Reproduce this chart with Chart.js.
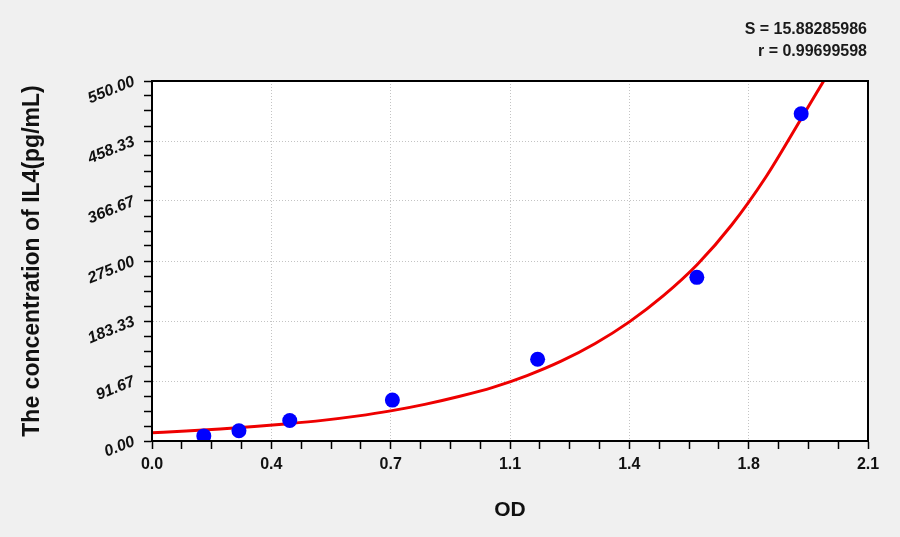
<!DOCTYPE html>
<html>
<head>
<meta charset="utf-8">
<script src="https://cdn.jsdelivr.net/npm/chart.js@4.4.0/dist/chart.umd.min.js"></script>
<style>
  html, body { margin: 0; padding: 0; background: #f0f0f0; }
  #wrap { width: 900px; height: 537px; }
</style>
</head>
<body>
<div id="wrap"><canvas id="c" width="900" height="537"></canvas></div>
<script>
// Standard points (OD vs concentration)
const odValues = [0.152, 0.255, 0.404, 0.705, 1.131, 1.598, 1.904];
const concValues = [7.81, 15.63, 31.25, 62.5, 125, 250, 500];

// Fitted curve
const curveOD = [0, 0.1, 0.2, 0.3, 0.4, 0.5, 0.6, 0.7, 0.8, 0.9, 1.0, 1.1, 1.2, 1.3, 1.4, 1.5, 1.6, 1.7, 1.8, 1.9, 1.97];
const curveConc = [12.7, 15.3, 18.5, 22.3, 26.5, 31.5, 38, 46, 56, 68, 82, 100, 122, 149, 182, 222, 270, 330, 403, 489, 550];

// Axis tick labels (major ticks)
const xTickLabels = ['0.0', '0.4', '0.7', '1.1', '1.4', '1.8', '2.1'];
const yTickLabels = ['0.00', '91.67', '183.33', '275.00', '366.67', '458.33', '550.00'];
const xMax = 2.1;
const yMax = 550;
const minorPerMajor = 4;

const statLines = ['S = 15.88285986', 'r = 0.99699598'];
const xTitle = 'OD';
const yTitle = 'The concentration of IL4(pg/mL)';

const FONT = "'Liberation Sans', Arial, sans-serif";

const bgPlugin = {
  id: 'bg',
  beforeDraw(chart) {
    const { ctx, chartArea: a } = chart;
    ctx.save();
    ctx.fillStyle = '#f0f0f0';
    ctx.fillRect(0, 0, chart.width, chart.height);
    ctx.fillStyle = '#ffffff';
    ctx.fillRect(a.left, a.top, a.right - a.left, a.bottom - a.top);
    ctx.restore();
  },
  afterDraw(chart) {
    const { ctx, chartArea: a } = chart;
    ctx.save();
    ctx.strokeStyle = '#000';
    ctx.lineWidth = 2;
    ctx.strokeRect(a.left, a.top, a.right - a.left, a.bottom - a.top);
    ctx.fillStyle = '#1a1a1a';
    ctx.font = 'bold 16px ' + FONT;
    ctx.textAlign = 'right';
    ctx.textBaseline = 'middle';
    ctx.fillText(statLines[0], 867, 30);
    ctx.fillText(statLines[1], 867, 52);
    ctx.restore();
  }
};

function makeTicks(max, labels) {
  const n = (labels.length - 1) * minorPerMajor;
  const t = [];
  for (let i = 0; i <= n; i++) t.push({ value: max * i / n });
  return t;
}

const gridColor = (c) => (c.index % minorPerMajor === 0 ? '#c4c4c4' : 'rgba(0,0,0,0)');

new Chart(document.getElementById('c'), {
  type: 'scatter',
  data: {
    datasets: [
      {
        type: 'line',
        label: 'fit',
        data: curveOD.map((x, i) => ({ x, y: curveConc[i] })),
        borderColor: '#ee0000',
        borderWidth: 3,
        pointRadius: 0,
        fill: false,
        cubicInterpolationMode: 'monotone',
        order: 2
      },
      {
        label: 'standards',
        data: odValues.map((x, i) => ({ x, y: concValues[i] })),
        backgroundColor: '#0000ff',
        borderWidth: 0,
        pointRadius: 7.5,
        pointHoverRadius: 7.5,
        order: 1
      }
    ]
  },
  options: {
    responsive: false,
    animation: false,
    devicePixelRatio: 1,
    layout: { padding: { top: 81, right: 32, left: 0, bottom: 0 } },
    plugins: { legend: { display: false }, tooltip: { enabled: false } },
    scales: {
      x: {
        type: 'linear',
        min: 0,
        max: xMax,
        afterBuildTicks(s) { s.ticks = makeTicks(xMax, xTickLabels); },
        afterFit(s) { s.height = 96; },
        border: { display: true, color: '#000', width: 2, dash: [1, 2] },
        grid: { color: gridColor, lineWidth: 1, tickColor: '#000', tickWidth: 1.5, tickLength: 8 },
        ticks: {
          autoSkip: false,
          maxRotation: 0,
          minRotation: 0,
          padding: 6,
          color: '#111',
          font: { family: FONT, size: 16, weight: 'bold' },
          callback: (v, i) => (i % minorPerMajor === 0 ? xTickLabels[i / minorPerMajor] : '')
        },
        title: {
          display: true,
          text: xTitle,
          color: '#111',
          font: { family: FONT, size: 21, weight: 'bold' },
          padding: { top: 0, bottom: 14 }
        }
      },
      y: {
        type: 'linear',
        min: 0,
        max: yMax,
        afterBuildTicks(s) { s.ticks = makeTicks(yMax, yTickLabels); },
        afterFit(s) { s.width = 152; },
        border: { display: true, color: '#000', width: 2, dash: [1, 2] },
        grid: { color: gridColor, lineWidth: 1, tickColor: '#000', tickWidth: 1.5, tickLength: 8 },
        ticks: {
          autoSkip: false,
          minRotation: 22,
          maxRotation: 22,
          padding: 10,
          color: '#111',
          font: { family: FONT, size: 16, weight: 'bold', style: 'italic' },
          callback: (v, i) => (i % minorPerMajor === 0 ? yTickLabels[i / minorPerMajor] : '')
        },
        title: {
          display: true,
          text: yTitle,
          color: '#111',
          font: { family: FONT, size: 23, weight: 'bold' },
          padding: { top: 19, bottom: 0 }
        }
      }
    }
  },
  plugins: [bgPlugin]
});
</script>
</body>
</html>
